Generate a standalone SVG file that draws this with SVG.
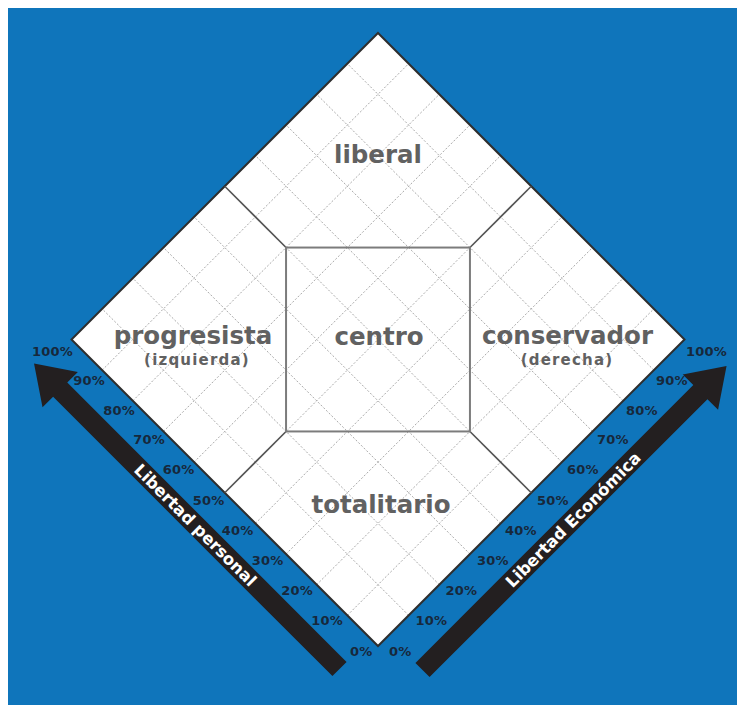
<svg xmlns="http://www.w3.org/2000/svg" width="737" height="705" viewBox="0 0 737 705">
<style>
.grid line{stroke:#a9a9a9;stroke-width:1;stroke-dasharray:2 1.8}
.div{stroke:#555555;stroke-width:1.6;fill:none}
.sq{stroke:#7c7c7c;stroke-width:2;fill:none}
.lbl{font-family:"DejaVu Sans",Verdana,sans-serif;font-weight:bold;fill:#616161;text-anchor:middle}
.big{font-size:24.5px}
.sub{font-size:15px;letter-spacing:1.2px}
.pct{font-family:"DejaVu Sans",Verdana,sans-serif;font-weight:bold;font-size:13px;letter-spacing:0.2px;fill:#17283b}
.l{text-anchor:end}
.arrow{fill:#231f20}
.atx{font-family:"DejaVu Sans",Verdana,sans-serif;font-weight:bold;font-size:16.5px;fill:#ffffff;text-anchor:middle}
</style>
<rect x="0" y="0" width="737" height="705" fill="#ffffff"/>
<rect x="8" y="8" width="729" height="697" fill="#0f75bb"/>

<g id="diamond">
<polygon points="378,33 684.5,339.5 378,646 71.5,339.5" fill="#ffffff"/>
<g class="grid">
<line x1="347.35" y1="615.35" x2="653.85" y2="308.85"/>
<line x1="316.7" y1="584.7" x2="623.2" y2="278.2"/>
<line x1="286.05" y1="554.05" x2="592.55" y2="247.55"/>
<line x1="255.4" y1="523.4" x2="561.9" y2="216.9"/>
<line x1="224.75" y1="492.75" x2="531.25" y2="186.25"/>
<line x1="194.1" y1="462.1" x2="500.6" y2="155.6"/>
<line x1="163.45" y1="431.45" x2="469.95" y2="124.95"/>
<line x1="132.8" y1="400.8" x2="439.3" y2="94.3"/>
<line x1="102.15" y1="370.15" x2="408.65" y2="63.65"/>
<line x1="408.65" y1="615.35" x2="102.15" y2="308.85"/>
<line x1="439.3" y1="584.7" x2="132.8" y2="278.2"/>
<line x1="469.95" y1="554.05" x2="163.45" y2="247.55"/>
<line x1="500.6" y1="523.4" x2="194.1" y2="216.9"/>
<line x1="531.25" y1="492.75" x2="224.75" y2="186.25"/>
<line x1="561.9" y1="462.1" x2="255.4" y2="155.6"/>
<line x1="592.55" y1="431.45" x2="286.05" y2="124.95"/>
<line x1="623.2" y1="400.8" x2="316.7" y2="94.3"/>
<line x1="653.85" y1="370.15" x2="347.35" y2="63.65"/>
</g>
<polygon points="378,33 684.5,339.5 378,646 71.5,339.5" fill="none" stroke="#2e2e2e" stroke-width="2"/>
</g>

<g id="connectors">
<line class="div" x1="286.05" y1="247.55" x2="224.75" y2="186.25"/>
<line class="div" x1="469.95" y1="247.55" x2="531.25" y2="186.25"/>
<line class="div" x1="286.05" y1="431.45" x2="224.75" y2="492.75"/>
<line class="div" x1="469.95" y1="431.45" x2="531.25" y2="492.75"/>
</g>

<g id="liberal"><text class="lbl big" x="378" y="162.5">liberal</text></g>
<g id="progresista">
<text class="lbl big" x="193" y="344">progresista</text>
<text class="lbl sub" x="197" y="364.5">(izquierda)</text>
</g>
<g id="centro">
<rect class="sq" x="286.05" y="247.55" width="183.9" height="183.9"/>
<text class="lbl big" x="379" y="344.5">centro</text>
</g>
<g id="conservador">
<text class="lbl big" x="567.5" y="343.5">conservador</text>
<text class="lbl sub" x="567" y="364.5">(derecha)</text>
</g>
<g id="totalitario"><text class="lbl big" x="381" y="513">totalitario</text></g>

<g id="eje-personal">
<polygon class="arrow" transform="translate(339.5,669) rotate(-135)" points="0,-10 395,-10 395,-25 432,0 395,25 395,10 0,10"/>
<text class="atx" transform="translate(195.5,525) rotate(45)" dy="0.36em">Libertad personal</text>
<g class="pct l">
<text x="73" y="355.5">100%</text>
<text x="105" y="385">90%</text>
<text x="135" y="414.5">80%</text>
<text x="165" y="443.5">70%</text>
<text x="194.5" y="474">60%</text>
<text x="224.5" y="505">50%</text>
<text x="253.5" y="534.5">40%</text>
<text x="283.5" y="564.5">30%</text>
<text x="313" y="594.5">20%</text>
<text x="343" y="625">10%</text>
<text x="372.5" y="655.5">0%</text>
</g>
</g>

<g id="eje-economico">
<polygon class="arrow" transform="translate(422.5,670) rotate(-45)" points="0,-10 393,-10 393,-25 430,0 393,25 393,10 0,10"/>
<text class="atx" transform="translate(573,519.5) rotate(-45)" dy="0.36em">Libertad Económica</text>
<g class="pct">
<text x="686" y="355.5">100%</text>
<text x="656" y="385">90%</text>
<text x="626" y="414.5">80%</text>
<text x="597" y="443.5">70%</text>
<text x="567" y="474">60%</text>
<text x="537" y="505">50%</text>
<text x="505" y="534.5">40%</text>
<text x="477" y="564.5">30%</text>
<text x="445.5" y="594.5">20%</text>
<text x="415.5" y="625">10%</text>
<text x="389" y="655.5">0%</text>
</g>
</g>
</svg>
